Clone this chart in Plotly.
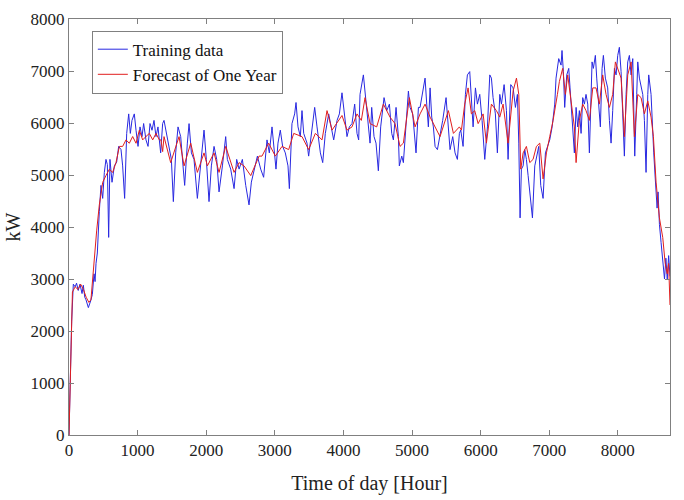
import plotly.graph_objects as go

# Training data (blue): hour, kW
blue_hours = [0, 39, 63, 90, 110, 135, 160, 190, 209, 230, 248, 282, 316, 340, 365, 380, 394, 413, 442, 466,
              491, 515, 539, 559, 578, 597, 627, 661, 695, 724, 758, 782, 811, 841, 870, 894, 918, 952, 977, 1006,
              1035, 1064, 1088, 1122, 1152, 1181, 1210, 1239, 1268, 1297, 1336, 1365,
              1385, 1434, 1458, 1492, 1521, 1555, 1589, 1628, 1662, 1686, 1725, 1750, 1784, 1822, 1871, 1920, 1968,
              2002, 2041, 2075, 2114, 2153, 2187, 2236, 2284, 2308, 2357, 2406, 2444, 2479, 2527, 2576, 2624, 2658,
              2697, 2746, 2794,
              2837, 2886, 2920, 2959, 2998, 3017, 3046, 3080, 3114, 3153, 3192, 3212, 3250, 3289, 3309, 3338, 3372,
              3396, 3421, 3469, 3493, 3542, 3581, 3615, 3664, 3698, 3736, 3785, 3834, 3858, 3907, 3941, 3979, 4018,
              4052, 4086, 4125, 4164, 4198, 4222,
              4242, 4291, 4329, 4349, 4388, 4412, 4446, 4475, 4509, 4543, 4592, 4631, 4670, 4704, 4728, 4767, 4801,
              4815, 4850, 4874, 4913, 4947, 4971, 5010, 5058, 5093, 5117, 5190, 5214, 5238, 5263, 5287, 5311, 5336,
              5370, 5408, 5447, 5496, 5530, 5554, 5593, 5627, 5661, 5690,
              5710, 5744, 5778, 5807, 5841, 5865, 5890, 5924, 5953, 5987, 6021, 6060, 6099, 6133, 6157, 6181, 6215,
              6244, 6279, 6303, 6342, 6376, 6400, 6439, 6473, 6507, 6536, 6556, 6575, 6594, 6619, 6643, 6667, 6692,
              6730, 6755, 6789, 6828, 6847, 6876, 6910, 6944, 6973, 7007, 7042, 7080,
              7099, 7138, 7172, 7186, 7206, 7225, 7255, 7284, 7303, 7332, 7366, 7391, 7415, 7439, 7464, 7488, 7512,
              7536, 7561, 7585, 7624, 7643, 7672, 7692, 7721, 7745, 7770, 7789, 7818, 7852, 7877, 7901, 7925, 7950,
              7974, 7998, 8022, 8047, 8071, 8095, 8120, 8144, 8168, 8193, 8217, 8246, 8275, 8290, 8314, 8338, 8363,
              8387, 8411, 8436, 8450, 8484, 8508, 8523, 8542, 8557, 8572, 8586, 8606, 8630, 8660, 8680, 8700, 8720,
              8740, 8760]
blue_kw = [0, 2190, 2900, 2850, 2920, 2780, 2900, 2720, 2880, 2650, 2600, 2450, 2580, 2700, 3100, 2950, 3300, 3500, 4300, 4800,
           4550, 5050, 5300, 5200, 3800, 5300, 4860, 5175, 5250, 5550, 5490, 5175, 4550, 5800, 6175, 5800, 6050, 6175, 5860, 5550,
           5925, 5738, 5990, 5675, 5550, 5990, 5860, 6050, 5738, 5925, 5425, 5990,
           6050, 5738, 5550, 5300, 4488, 5425, 5925, 5738, 5175, 4800, 5613, 5988, 5425, 5300, 4550, 5175, 5863,
           5300, 4488, 5175, 5550, 5300, 4675, 5175, 5738, 5300, 5113, 4738, 5300, 5113, 5300, 4800, 4425, 4863,
           5113, 5363, 5113,
           4956, 5675, 5425, 5925, 5425, 5113, 5613, 5863, 5550, 5425, 5175, 4738, 5988, 6175, 6394, 5925, 5738,
           6238, 5800, 5613, 5363, 5863, 6300, 5925, 5425, 5238, 5800, 6175, 5800, 5675, 6050, 6175, 6581, 6175,
           5738, 5925, 5988, 6363, 5800, 5675,
           6550, 6925, 6363, 6175, 5613, 6300, 5738, 5613, 5081, 5925, 6488, 6238, 6363, 5800, 5675, 6300, 5738,
           5175, 5363, 5238, 5925, 6613, 6300, 6175, 5425, 6300, 6300, 6863, 6363, 5925, 6675, 6113, 5925, 5550,
           5488, 5738, 6050, 6488, 5988, 5488, 5738, 5425, 5300, 5800,
           5863, 5550, 6550, 6925, 6988, 6425, 5925, 6675, 6363, 6550, 6050, 5300, 5925, 6925, 6863, 6488, 6175,
           5425, 6550, 6363, 6738, 6238, 5300, 6738, 6675, 6300, 6550, 5613, 4175, 5113, 5175, 5488, 5300, 4988,
           4425, 4175, 5175, 5425, 5550, 4800, 4550, 5425, 5550, 5675, 5925, 6363,
           6863, 7238, 7113, 7394, 6988, 6300, 6925, 7050, 6675, 6050, 5425, 6300, 5925, 6238, 5800, 6488, 6363,
           6550, 6363, 5425, 7175, 7050, 7300, 6863, 6238, 5925, 7050, 7300, 6863, 6675, 6050, 5613, 6238, 7050,
           6925, 7300, 7456, 6988, 6175, 5363, 6550, 7175, 7300, 6925, 7238, 5363, 6550, 7175, 6863, 6738, 6550,
           6050, 5050, 6550, 6925, 6550, 5738, 5425, 5000, 4738, 4363, 4675, 4050, 3700, 3200, 3000, 3400, 3000,
           3450, 3050]

# Forecast of One Year (red): hour, kW
red_hours = [0, 50, 90, 130, 170, 210, 250, 290, 320, 360, 403, 442, 491, 539, 588, 636, 685, 734, 782, 831,
             879, 928, 977, 1025, 1074, 1122, 1171, 1220, 1268, 1317, 1340, 1365,
             1385, 1482, 1604, 1677, 1774, 1871, 1968, 2017, 2114, 2187, 2284, 2406, 2479, 2551, 2649, 2770,
             2813, 2910, 3007, 3105, 3202, 3275, 3396, 3493, 3591, 3688, 3761, 3834, 3931, 3979, 4052, 4125, 4198,
             4261, 4315, 4388, 4485, 4582, 4679, 4752, 4825, 4874, 4961, 5044, 5117, 5190, 5263, 5336, 5408, 5530,
             5603, 5690, 5720, 5768, 5817, 5865, 5914, 5963, 6036, 6084, 6157, 6230, 6279, 6327, 6400, 6473, 6522,
             6556, 6585, 6619, 6667, 6716, 6764, 6813, 6862, 6910, 6959, 7007, 7056, 7119, 7148, 7196, 7235, 7269,
             7318, 7366, 7391, 7439, 7488, 7536, 7585, 7634, 7682, 7731, 7779, 7828, 7877, 7925, 7964, 7998, 8047,
             8095, 8144, 8193, 8241, 8290, 8338, 8387, 8436, 8484, 8518, 8557, 8606, 8654, 8690, 8720, 8740, 8760]
red_kw = [0, 2750, 2850, 2800, 2900, 2800, 2650, 2550, 2600, 3300, 3925, 4425, 4860, 4990, 5110, 5050, 5240, 5550, 5550, 5675,
          5610, 5740, 5610, 5860, 5675, 5740, 5800, 5675, 5800, 5675, 5675, 5450,
          5738, 5238, 5738, 5175, 5613, 5050, 5425, 5175, 5425, 5050, 5550, 5050, 5238, 5175, 4988, 5363,
          5363, 5613, 5363, 5550, 5488, 5800, 5738, 5488, 5800, 5675, 6238, 5863, 6050, 6144, 5863, 5925, 6175,
          6050, 6488, 5988, 5925, 6363, 6113, 5988, 5550, 5613, 6488, 5925, 6175, 6363, 6113, 5925, 5738, 6238,
          5800, 5925, 5863, 6363, 6675, 6175, 6238, 5988, 6175, 5613, 6363, 6238, 6113, 6363, 5613, 6613, 6863,
          6550, 5113, 5425, 5550, 5238, 5300, 5550, 5613, 4925, 5425, 5738, 6050, 6550, 6800, 7050, 6550, 6925,
          6425, 5925, 5238, 6050, 6363, 6238, 6050, 6675, 6675, 6363, 6925, 6550, 6300, 6550, 7175, 7050, 6863,
          5738, 6925, 7175, 5738, 6550, 6488, 6175, 6425, 6113, 5738, 4863, 4175, 3800, 3300, 3100, 3300, 2500]

x_ticks = [0, 1000, 2000, 3000, 4000, 5000, 6000, 7000, 8000]
y_ticks = [0, 1000, 2000, 3000, 4000, 5000, 6000, 7000, 8000]

FONT = "Liberation Serif, Times New Roman, serif"

fig = go.Figure()
fig.add_trace(go.Scatter(x=blue_hours, y=blue_kw, mode="lines", name="Training data",
                         line=dict(color="rgb(40,40,225)", width=1)))
fig.add_trace(go.Scatter(x=red_hours, y=red_kw, mode="lines", name="Forecast of One Year",
                         line=dict(color="rgb(225,30,30)", width=1)))

axis_common = dict(showline=True, linecolor="#808080", linewidth=1, mirror="ticks",
                   ticks="inside", ticklen=5, tickcolor="#808080", showgrid=False, zeroline=False,
                   tickfont=dict(family=FONT, size=17, color="#222"))

fig.update_layout(
    width=684, height=500,
    margin=dict(l=69, r=14, t=10, b=65),
    paper_bgcolor="white", plot_bgcolor="white",
    font=dict(family=FONT, color="#222"),
    showlegend=True,
    legend=dict(x=0.038, y=0.972, xanchor="left", yanchor="top",
                bgcolor="white", bordercolor="#808080", borderwidth=1,
                font=dict(family=FONT, size=17, color="#111"),
                tracegroupgap=0, itemwidth=30),
    xaxis=dict(range=[0, 8760], tickmode="array", tickvals=x_ticks,
               title=dict(text="Time of day [Hour]", font=dict(family=FONT, size=20, color="#222"), standoff=16),
               **axis_common),
    yaxis=dict(range=[0, 8000], tickmode="array", tickvals=y_ticks, **axis_common),
    annotations=[dict(text="kW", xref="paper", yref="paper", x=-0.094, y=0.50,
                      xanchor="center", yanchor="middle", textangle=-90, showarrow=False,
                      font=dict(family=FONT, size=20, color="#222"))],
)

fig.write_html("out.html")
